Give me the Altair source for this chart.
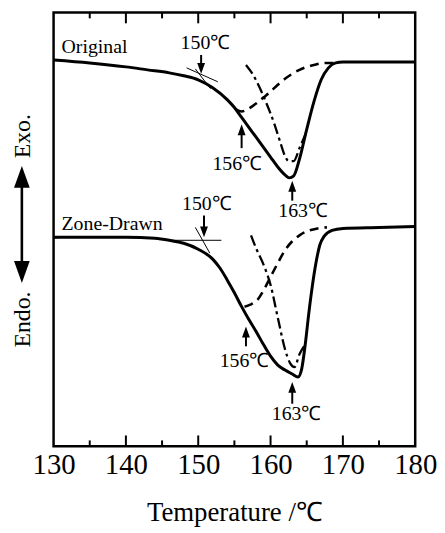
import altair as alt
import pandas as pd

# ---- data (heat flow in arbitrary units) ----
orig_T = [130, 135, 140, 143, 146, 148, 150, 152, 154, 155, 156, 157, 158, 159, 160, 161, 162, 162.6, 163.2, 164, 165, 166, 167, 168, 169, 170, 175, 180]
orig_v = [390, 387, 383, 380, 377, 374, 370, 362, 350, 342, 332, 322, 312, 302, 292, 282, 274, 271, 273, 290, 320, 348, 370, 382, 387, 388, 388, 388]

orig_dash_T = [155.2, 156, 157, 158, 159, 160, 161, 162, 163, 164, 165, 166, 167.5, 169]
orig_dash_v = [340, 338, 341, 346, 352, 358, 365, 371, 376, 380, 383, 385, 387, 387]

orig_dd_T = [156.6, 157.5, 158.5, 159.5, 160.5, 161.3, 162, 162.5, 163.2, 164, 165]
orig_dd_v = [385, 376, 362, 345, 326, 308, 293, 288, 288, 301, 318]

zone_T = [130, 140, 144, 146, 148, 150, 152, 153, 154, 155, 156, 157, 158, 159, 160, 161, 162, 163, 163.8, 164.3, 164.8, 165.3, 165.8, 166.3, 166.8, 167.4, 168.5, 170, 175, 180]
zone_v = [211, 211, 210, 208, 205, 199, 189, 180, 168, 155, 141, 128, 116, 103, 91, 82, 77, 73, 70, 78, 103, 135, 163, 186, 203, 212, 218, 220, 221, 222]

zone_dash_T = [156.4, 157.2, 158.2, 159, 160, 161, 162, 163, 164, 165, 166.5, 167.8]
zone_dash_v = [141, 143, 148, 157, 171, 185, 198, 207, 213, 217, 220, 221]

zone_dd_T = [157.3, 158, 159, 160, 161, 162, 162.7, 163.3, 164, 164.8]
zone_dd_v = [213, 200, 184, 163, 130, 98, 84, 80, 93, 103]

# tangent construction lines (onset)
tan_id = ["o1", "o1", "o2", "o2", "z1", "z1", "z2", "z2"]
tan_T = [148.4, 152.7, 149.6, 151.7, 145.9, 153.2, 149.6, 151.6]
tan_v = [382, 368, 381, 361, 208, 208, 221, 195]

# annotation arrows
arr_T = [150.4, 156.0, 163.0, 150.8, 156.6, 163.0]
arr_tail = [395, 301, 248, 233, 101, 43]
arr_head = [376, 325, 268, 211, 121, 65]

# annotation labels
lab_text = ["150℃", "156℃", "163℃", "150℃", "156℃", "163℃"]
lab_T = [151.0, 155.4, 164.5, 151.2, 156.4, 163.6]
lab_v = [407, 285, 238, 245, 86, 33]

name_text = ["Original", "Zone-Drawn"]
name_T = [131.1, 131.1]
name_v = [403, 224]

major_ticks = [140, 150, 160, 170]
minor_ticks = [135, 145, 155, 165, 175]
label_ticks = [130, 140, 150, 160, 170, 180]

W, H = 365, 438
FONT = "Liberation Serif"
UP = "M0,-1L0.72,1L-0.72,1Z"
DOWN = "M0,1L0.72,-1L-0.72,-1Z"

xs = alt.Scale(domain=[130, 180], nice=False, zero=False)
ys = alt.Scale(domain=[0, 438], nice=False, zero=False)
x_axis = alt.Axis(values=label_ticks, ticks=False, domain=False, grid=False, labelFlush=False,
                  labelFont=FONT, labelFontSize=29, labelColor="black", labelPadding=4,
                  title="Temperature /℃", titleFont=FONT, titleFontSize=27,
                  titleFontWeight="normal", titleColor="black", titlePadding=21)


def X(field="T"):
    return alt.X(f"{field}:Q", scale=xs, axis=x_axis)


def Y(field="v"):
    return alt.Y(f"{field}:Q", scale=ys, axis=None)


def line_layer(T, v, dash, width):
    df = pd.DataFrame({"T": T, "v": v})
    kw = dict(color="black", strokeWidth=width, interpolate="monotone")
    if dash:
        kw["strokeDash"] = dash
    return alt.Chart(df).mark_line(**kw).encode(x=X(), y=Y())


layers = [
    line_layer(orig_T, orig_v, None, 3),
    line_layer(orig_dash_T, orig_dash_v, [9, 6], 2.6),
    line_layer(orig_dd_T, orig_dd_v, [11, 4, 3, 4], 2.3),
    line_layer(zone_T, zone_v, None, 3),
    line_layer(zone_dash_T, zone_dash_v, [9, 6], 2.6),
    line_layer(zone_dd_T, zone_dd_v, [11, 4, 3, 4], 2.3),
]

tan_df = pd.DataFrame({"id": tan_id, "T": tan_T, "v": tan_v})
layers.append(alt.Chart(tan_df).mark_line(color="black", strokeWidth=1).encode(
    x=X(), y=Y(), detail="id:N"))

arr_df = pd.DataFrame({"T": arr_T, "tail": arr_tail, "head": arr_head})
arr_df["dir"] = ["down" if h < t else "up" for h, t in zip(arr_head, arr_tail)]
arr_df["hc"] = [h + 5.5 if h < t else h - 5.5 for h, t in zip(arr_head, arr_tail)]
layers.append(alt.Chart(arr_df).mark_rule(color="black", strokeWidth=2).encode(
    x=X(), y=Y("tail"), y2="hc:Q"))
for d, shape in [("down", DOWN), ("up", UP)]:
    layers.append(alt.Chart(arr_df[arr_df["dir"] == d]).mark_point(
        shape=shape, filled=True, color="black", opacity=1, size=121, strokeWidth=0).encode(
        x=X(), y=Y("hc")))

lab_df = pd.DataFrame({"t": lab_text, "T": lab_T, "v": lab_v})
layers.append(alt.Chart(lab_df).mark_text(font=FONT, fontSize=20, color="black", baseline="middle", align="center").encode(
    x=X(), y=Y(), text="t:N"))

name_df = pd.DataFrame({"t": name_text, "T": name_T, "v": name_v})
layers.append(alt.Chart(name_df).mark_text(font=FONT, fontSize=20, color="black", baseline="middle", align="left").encode(
    x=X(), y=Y(), text="t:N"))

# inward ticks on top and bottom
for vals, ln in [(major_ticks, 11), (minor_ticks, 6)]:
    tdf = pd.DataFrame({"T": vals, "b0": 0, "b1": ln, "t0": 438, "t1": 438 - ln})
    layers.append(alt.Chart(tdf).mark_rule(color="black", strokeWidth=2).encode(
        x=X(), y=Y("b0"), y2="b1:Q"))
    layers.append(alt.Chart(tdf).mark_rule(color="black", strokeWidth=2).encode(
        x=X(), y=Y("t0"), y2="t1:Q"))

# small tick on left axis
ltick = pd.DataFrame({"T": [130], "T2": [130.7], "v": [211]})
layers.append(alt.Chart(ltick).mark_rule(color="black", strokeWidth=2).encode(
    x=X(), x2="T2:Q", y=Y()))

# Exo. / Endo. side labels with double arrow
side = pd.DataFrame({"t": ["Exo.", "Endo."], "yy": [125, 310]})
layers.append(alt.Chart(side).mark_text(font=FONT, fontSize=24, color="black", angle=270,
                                        baseline="middle", align="center").encode(
    x=alt.value(-31), y=alt.Y("yy:Q", scale=None), text="t:N"))
one = pd.DataFrame({"a": [0]})
layers.append(alt.Chart(one).mark_rule(color="black", strokeWidth=2.6).encode(
    x=alt.value(-32), y=alt.value(166), y2=alt.value(261)))
layers.append(alt.Chart(one).mark_point(shape=UP, filled=True, color="black", opacity=1, size=484, strokeWidth=0).encode(
    x=alt.value(-32), y=alt.value(166)))
layers.append(alt.Chart(one).mark_point(shape=DOWN, filled=True, color="black", opacity=1, size=484, strokeWidth=0).encode(
    x=alt.value(-32), y=alt.value(262)))

chart = alt.layer(*layers).properties(
    width=W, height=H,
    autosize=alt.AutoSizeParams(type="none"),
    padding={"left": 46, "top": 2, "right": 22, "bottom": 85},
    background="white",
).configure_view(stroke="black", strokeWidth=2.5)

chart.save("out.html", embed_options={"renderer": "svg", "actions": False})
